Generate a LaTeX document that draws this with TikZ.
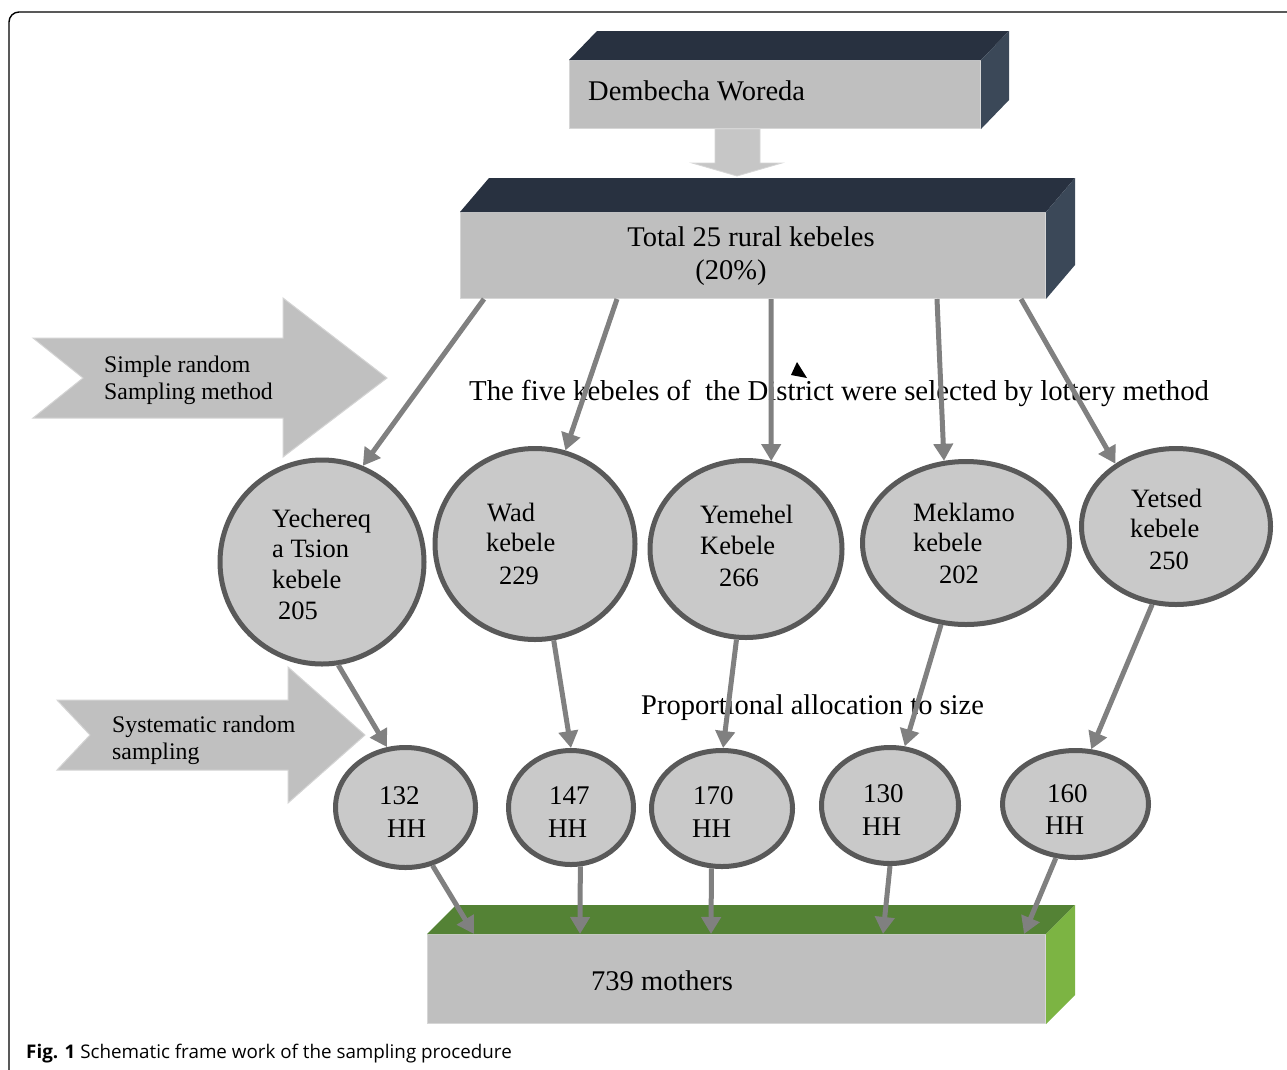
\documentclass[tikz,border=0pt]{standalone}
\usepackage{fontspec}
\setmainfont{Liberation Serif}
\newfontfamily\capfont{Open Sans}
\usetikzlibrary{arrows.meta,shapes.geometric}
\definecolor{frontgray}{HTML}{BFBFBF}
\definecolor{edgegray}{HTML}{D6D6D6}
\definecolor{navytop}{HTML}{283140}
\definecolor{navyside}{HTML}{3B4858}
\definecolor{greentop}{HTML}{548235}
\definecolor{greenside}{HTML}{7CB443}
\definecolor{circfill}{HTML}{C9C9C9}
\definecolor{circline}{HTML}{595959}
\definecolor{arrowgray}{HTML}{808080}
\definecolor{chevgray}{HTML}{C0C0C0}
\definecolor{chevedge}{HTML}{D4D4D4}
\definecolor{blockgray}{HTML}{C6C6C6}
\begin{document}
\begin{tikzpicture}[x=1pt,y=-1pt,
  lbl/.style={inner sep=0pt, anchor=base west},
  bigf/.style={font=\fontsize{28.5}{34}\selectfont},
  selfont/.style={font=\fontsize{28.8}{34}\selectfont},
  midf/.style={font=\fontsize{26.5}{31}\selectfont},
  hhf/.style={font=\fontsize{27}{33}\selectfont},
  chevf/.style={font=\fontsize{23.8}{27}\selectfont},
  frontbox/.style={rectangle, inner sep=0pt, fill=frontgray, draw=edgegray, line width=1pt, anchor=north west},
  kcirc/.style={ellipse, inner sep=0pt, fill=circfill, draw=circline, line width=5pt},
  conn/.style={draw=arrowgray, line width=5pt, -{Triangle[length=17pt,width=19pt]}},
  chev/.style={fill=chevgray, draw=chevedge, line width=1pt},
]
\useasboundingbox (0,0) rectangle (1287,1069);
\fill[white] (0,0) rectangle (1287,1069);
% frame
\draw[line width=1.4pt, rounded corners=10pt] (9,1075) -- (9,12) -- (1295,12);

% chevrons
\path[chev] (33,338) -- (283,338) -- (283,298) -- (387,378) -- (283,457) -- (283,418) -- (33,418) -- (83,378) -- cycle;
\node[lbl, chevf] (ch1a) at (104,372) {Simple random};
\node[lbl, chevf] (ch1b) at (104,399) {Sampling method};
\path[chev] (57,700) -- (288,700) -- (288,667) -- (365,735) -- (288,803) -- (288,770) -- (57,770) -- (90,735) -- cycle;
\node[lbl, chevf] (ch2a) at (112,732) {Systematic random};
\node[lbl, chevf] (ch2b) at (112,759) {sampling};

% box 1
\node[frontbox, minimum width=411pt, minimum height=68pt] (b1) at (569,60) {};
\fill[navytop] (b1.north west) -- (b1.north east) -- ([shift={(28,-29)}]b1.north east) -- ([shift={(28,-29)}]b1.north west) -- cycle;
\fill[navyside] (b1.north east) -- ([shift={(28,-29)}]b1.north east) -- ([shift={(28,-29)}]b1.south east) -- (b1.south east) -- cycle;
\node[lbl, bigf] (t1) at (588,100) {Dembecha Woreda};

% block arrow
\path[fill=blockgray, draw=edgegray, line width=0.8pt] (715,129) -- (760,129) -- (760,163) -- (782,163) -- (737,176) -- (692,163) -- (715,163) -- cycle;

% box 2
\node[frontbox, minimum width=585pt, minimum height=86pt] (b2) at (460,212) {};
\fill[navytop] (b2.north west) -- (b2.north east) -- ([shift={(29,-34)}]b2.north east) -- ([shift={(29,-34)}]b2.north west) -- cycle;
\fill[navyside] (b2.north east) -- ([shift={(29,-34)}]b2.north east) -- ([shift={(29,-34)}]b2.south east) -- (b2.south east) -- cycle;
\node[inner sep=0pt, anchor=base, bigf] (t2a) at (751,246) {Total 25 rural kebeles};
\node[inner sep=0pt, anchor=base, bigf] (t2b) at (731,279) {(20\%)};

% box 3
\node[frontbox, minimum width=618pt, minimum height=89pt] (b3) at (427,934) {};
\fill[greentop] (b3.north west) -- (b3.north east) -- ([shift={(29,-29)}]b3.north east) -- ([shift={(29,-29)}]b3.north west) -- cycle;
\fill[greenside] (b3.north east) -- ([shift={(29,-29)}]b3.north east) -- ([shift={(29,-29)}]b3.south east) -- (b3.south east) -- cycle;
\node[lbl, bigf] (t3) at (591,990) {739 mothers};

% middle texts
\node[lbl, selfont] (sel) at (469,400) {The five kebeles of\ \ the District were selected by lottery method};
\node[lbl, bigf] (prop) at (641,714) {Proportional allocation to size};
\fill (797,362) -- (791,375) -- (807,378) -- cycle;

% kebele circles
\node[kcirc, minimum width=204pt, minimum height=204pt] (k1) at (322,562) {};
\node[kcirc, minimum width=200pt, minimum height=191pt] (k2) at (535,544) {};
\node[kcirc, minimum width=192pt, minimum height=177pt] (k3) at (746,549) {};
\node[kcirc, minimum width=207pt, minimum height=163pt] (k4) at (966,543) {};
\node[kcirc, minimum width=189pt, minimum height=156pt] (k5) at (1176,526.5) {};

\node[lbl, midf] (k1a) at (272,527) {Yechereq};
\node[lbl, midf] (k1b) at (272,557) {a Tsion};
\node[lbl, midf] (k1c) at (272,588) {kebele};
\node[lbl, midf] (k1d) at (278,619) {205};
\node[lbl, midf] (k2a) at (487,521) {Wad};
\node[lbl, midf] (k2b) at (486,551) {kebele};
\node[lbl, midf] (k2c) at (499,584) {229};
\node[lbl, midf] (k3a) at (700,523) {Yemehel};
\node[lbl, midf] (k3b) at (700,554) {Kebele};
\node[lbl, midf] (k3c) at (719,586) {266};
\node[lbl, midf] (k4a) at (913,521) {Meklamo};
\node[lbl, midf] (k4b) at (913,551) {kebele};
\node[lbl, midf] (k4c) at (939,583) {202};
\node[lbl, midf] (k5a) at (1131,507) {Yetsed};
\node[lbl, midf] (k5b) at (1130,537) {kebele};
\node[lbl, midf] (k5c) at (1149,569) {250};

% HH circles
\node[kcirc, minimum width=140pt, minimum height=120pt] (h1) at (405.5,807.5) {};
\node[kcirc, minimum width=125pt, minimum height=114pt] (h2) at (571,807.5) {};
\node[kcirc, minimum width=141pt, minimum height=116pt] (h3) at (722,808.5) {};
\node[kcirc, minimum width=137pt, minimum height=116pt] (h4) at (890,805.5) {};
\node[kcirc, minimum width=146pt, minimum height=107pt] (h5) at (1075.5,804) {};

\node[lbl, hhf] (h1a) at (379,804) {132};
\node[lbl, hhf] (h1b) at (387,837) {HH};
\node[lbl, hhf] (h2a) at (549,804) {147};
\node[lbl, hhf] (h2b) at (548,837) {HH};
\node[lbl, hhf] (h3a) at (693,804) {170};
\node[lbl, hhf] (h3b) at (692,837) {HH};
\node[lbl, hhf] (h4a) at (863,802) {130};
\node[lbl, hhf] (h4b) at (862,835) {HH};
\node[lbl, hhf] (h5a) at (1047,802) {160};
\node[lbl, hhf] (h5b) at (1045,834) {HH};

% connectors: box 2 -> kebeles
\draw[conn] ([xshift=24pt]b2.south west) -- (k1.67.5);
\draw[conn] ([xshift=157pt]b2.south west) -- (k2.72.4);
\draw[conn] ([xshift=311pt]b2.south west) -- (k3.74.6);
\draw[conn] ([xshift=477pt]b2.south west) -- (k4.105);
\draw[conn] ([xshift=561pt]b2.south west) -- (k5.134);

% kebeles -> HH
\draw[conn] (k1.-81.7) -- (h1.107);
\draw[conn] (k2.-79.6) -- (h2.90);
\draw[conn] (k3.-96.9) -- (h3.89);
\draw[conn] (k4.-107.4) -- (h4.76);
\draw[conn] (k5.-107) -- (h5.74.4);

% HH -> mothers
\draw[conn] (h1.-65.3) -- ([xshift=47pt]b3.north west);
\draw[conn] (h2.-81.5) -- ([xshift=153pt]b3.north west);
\draw[conn] (h3.-100) -- ([xshift=284pt]b3.north west);
\draw[conn] (h4.-90) -- ([xshift=456pt]b3.north west);
\draw[conn] (h5.-110) -- ([xshift=597pt]b3.north west);

% caption
\node[lbl, font=\capfont\fontsize{18.8}{22}\selectfont] (cap) at (26,1058) {\textbf{Fig. 1} Schematic frame work of the sampling procedure};
\end{tikzpicture}
\end{document}
